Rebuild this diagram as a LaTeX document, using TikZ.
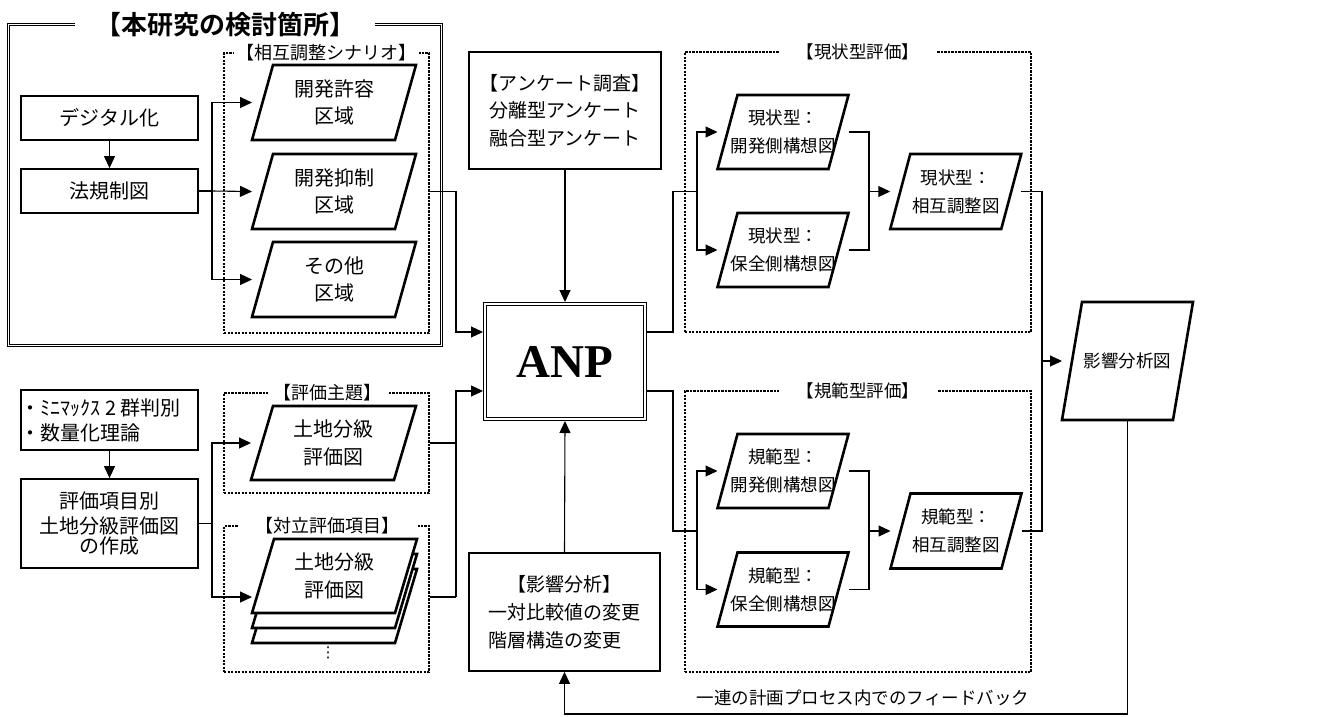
\documentclass[tikz,border=0pt]{standalone}
\usepackage{fontspec}
\setmainfont{Noto Sans CJK JP}[BoldFont={Noto Sans CJK JP Bold}]
\newfontfamily\anpfont{Liberation Serif}
\newfontfamily\djv{DejaVu Sans}
\usetikzlibrary{arrows.meta}
\newcommand\fs[2]{\fontsize{#1}{#2}\selectfont}
\tikzset{
  box/.style={draw, line width=1.8pt, inner sep=0pt, align=center},
  dblbox/.style={draw, double, double distance=1.8pt, line width=1pt, inner sep=0pt, outer sep=2pt},
  pgbox/.style={draw=none, inner sep=0pt, outer sep=0pt},
  pgline/.style={draw, line width=2.6pt, fill=white, line join=miter},
  dotbox/.style={draw, line width=2.4pt, dash pattern=on 2.2pt off 1.3pt, inner sep=0pt},
  ttl/.style={fill=white, inner ysep=2pt},
  conn/.style={line width=1.1pt},
  arr/.style={line width=1.1pt, -{Triangle[length=12pt,width=11pt]}},
}
% parallelogram: name, centre, edge width, height, slant, font, text
\newcommand\pgram[7]{%
  \node[pgbox, minimum width=#3, minimum height=#4] (#1) at #2 {};
  \draw[pgline] ([xshift=#5/2]#1.north west) -- ([xshift=#5/2]#1.north east)
     -- ([xshift=-#5/2]#1.south east) -- ([xshift=-#5/2]#1.south west) -- cycle;
  \node[align=center, font=#6, inner sep=0pt] (#1-t) at (#1.center) {#7};
}
\begin{document}
\begin{tikzpicture}[x=1pt,y=-1pt]
\useasboundingbox (0,0) rectangle (1340,716);

% ---------- group frames ----------
\node[dblbox, minimum width=433, minimum height=321] (study) at (225,185) {};
\node[ttl, inner xsep=20pt, font=\fs{26}{30}\bfseries] (study-t) at (225,24.5) {【本研究の検討箇所】};

\node[dotbox, minimum width=205, minimum height=280] (scen) at (326.5,193) {};
\node[ttl, inner xsep=2.5pt, font=\fs{18}{20}] (scen-t) at (326.5,53) {【相互調整シナリオ】};

\node[dotbox, minimum width=205, minimum height=100] (shu) at (326.5,443) {};
\node[ttl, inner xsep=6pt, font=\fs{18}{20}] (shu-t) at (327.5,393) {【評価主題】};

\node[dotbox, minimum width=205, minimum height=146] (tai) at (326.5,599) {};
\node[ttl, inner xsep=18pt, font=\fs{18}{20}] (tai-t) at (327.5,526) {【対立評価項目】};

\node[dotbox, minimum width=346, minimum height=280] (gen) at (858,192) {};
\node[ttl, inner xsep=18pt, font=\fs{17.5}{20}] (gen-t) at (858,52) {【現状型評価】};

\node[dotbox, minimum width=346, minimum height=281] (kih) at (858,531.5) {};
\node[ttl, inner xsep=18pt, font=\fs{17.5}{20}] (kih-t) at (858,391) {【規範型評価】};

% ---------- left column ----------
\node[box, minimum width=177, minimum height=44, font=\fs{20}{25}] (dig) at (109.5,118) {デジタル化};
\node[box, minimum width=177, minimum height=44, font=\fs{20}{25}] (hou) at (109.5,191) {法規制図};

\node[box, minimum width=177, minimum height=60] (mm) at (109.5,420) {};
\node[anchor=west, align=left, inner sep=0pt, font=\fs{20}{25}] (mm-t) at ([xshift=0.5pt]mm.west) {・ﾐﾆﾏｯｸｽ 2 群判別\\・数量化理論};
\node[box, minimum width=177, minimum height=89, font=\fs{20}{25}] (hyo) at (109.5,523.5) {評価項目別\\土地分級評価図\\[-5pt]の作成};

% ---------- scenario parallelograms ----------
\pgram{p1}{(334,102.5)}{143}{75}{21}{\fs{20}{27}}{開発許容\\区域}
\pgram{p2}{(334,191.5)}{143}{75}{21}{\fs{20}{27}}{開発抑制\\区域}
\pgram{p3}{(334,279.5)}{143}{75}{21}{\fs{20}{27}}{その他\\区域}

\pgram{q1}{(333.5,443)}{143}{74}{22}{\fs{20}{28}}{土地分級\\評価図}
\draw[pgline] (274,569) -- (417,569) -- (395,643) -- (252,643) -- cycle;
\draw[pgline] (274,554) -- (417,554) -- (395,628) -- (252,628) -- cycle;
\pgram{q2}{(334.5,576)}{143}{74}{22}{\fs{20}{28}}{土地分級\\評価図}
\node[font=\djv\fs{15}{18}, inner sep=0pt] (dots) at (328,653) {⋮};

% ---------- centre column ----------
\node[box, minimum width=192, minimum height=117, font=\fs{19}{27.5}] (enq) at (565,110.5) {【アンケート調査】\\分離型アンケート\\融合型アンケート};
\node[dblbox, minimum width=160, minimum height=115, font=\anpfont\bfseries\fs{47}{50}] (anp) at (565,361.5) {ANP};
\node[box, minimum width=191, minimum height=118, font=\fs{19}{28}] (eik) at (564.5,612) {【影響分析】\\\makebox[8em][l]{一対比較値の変更}\\\makebox[8em][l]{階層構造の変更}};

% ---------- right column ----------
\pgram{g1}{(783,132)}{111}{74}{20}{\fs{17.5}{28}}{現状型：\\開発側構想図}
\pgram{g2}{(783,250)}{111}{74}{20}{\fs{17.5}{28}}{現状型：\\保全側構想図}
\pgram{g3}{(955.75,191.5)}{111}{75}{20}{\fs{17.5}{28}}{現状型：\\相互調整図}
\pgram{k1}{(783,471)}{111}{74}{20}{\fs{17.5}{28}}{規範型：\\開発側構想図}
\pgram{k2}{(783,589.5)}{111}{74}{20}{\fs{17.5}{28}}{規範型：\\保全側構想図}
\pgram{k3}{(956,531)}{111}{75}{20}{\fs{17.5}{28}}{規範型：\\相互調整図}
\pgram{ez}{(1127.5,361)}{111}{118}{20}{\fs{17.5}{22}}{影響分析図}

\node[inner sep=0pt, font=\fs{17.5}{20}] (fb-t) at (863,698) {一連の計画プロセス内でのフィードバック};

% ---------- junction coordinates ----------
\coordinate (jL) at (212,0);
\coordinate (jA) at (456,0);
\coordinate (jB) at (673,0);
\coordinate (jC) at (697,0);
\coordinate (jD) at (869,0);
\coordinate (jE) at (1042,0);
\coordinate (fb) at (0,714);
\coordinate (anpL1) at ([yshift=29.5pt]anp.west);
\coordinate (anpL2) at ([yshift=-29.5pt]anp.west);
\coordinate (anpR1) at ([yshift=29.5pt]anp.east);
\coordinate (anpR2) at ([yshift=-29.5pt]anp.east);
\coordinate (q2in) at ([xshift=-11pt,yshift=-21pt]q2.west);

% ---------- connectors ----------
\draw[arr] (dig.south) -- (hou.north);
\draw[conn] (hou.east) -- (jL |- hou.east);
\draw[arr] (jL |- hou.east) |- ([xshift=-10.5pt]p1.west);
\draw[arr] (jL |- hou.east) -- ([xshift=-10.5pt]p2.west);
\draw[arr] (jL |- hou.east) |- ([xshift=-10.5pt]p3.west);

\draw[arr] (mm.south) -- (hyo.north);
\draw[conn] (hyo.east) -- (jL |- hyo.east);
\draw[arr] (jL |- hyo.east) |- ([xshift=-11pt]q1.west);
\draw[arr] (jL |- hyo.east) |- (q2in);

\draw[arr] (scen.east |- p2) -| (jA |- anpL1) -- (anpL1);
\draw[conn] (shu.east |- q1) -- (jA |- q1);
\draw[conn] (tai.east |- q2in) -- (jA |- q2in);
\draw[arr] (jA |- q2in) -- (jA |- anpL2) -- (anpL2);

\draw[arr] (enq.south) -- (anp.north);
\draw[arr] (eik.north) -- (anp.south);

\draw[conn] (anpR1) -| (jB |- g3) -- (jC |- g3);
\draw[arr] (jC |- g3) |- ([xshift=-10pt]g1.west);
\draw[arr] (jC |- g3) |- ([xshift=-10pt]g2.west);
\draw[conn] ([xshift=10pt]g1.east) -| (jD |- g3);
\draw[conn] ([xshift=10pt]g2.east) -| (jD |- g3);
\draw[arr] (jD |- g3) -- ([xshift=-10pt]g3.west);

\draw[conn] (anpR2) -| (jB |- k3) -- (jC |- k3);
\draw[arr] (jC |- k3) |- ([xshift=-10pt]k1.west);
\draw[arr] (jC |- k3) |- ([xshift=-10pt]k2.west);
\draw[conn] ([xshift=10pt]k1.east) -| (jD |- k3);
\draw[conn] ([xshift=10pt]k2.east) -| (jD |- k3);
\draw[arr] (jD |- k3) -- ([xshift=-10pt]k3.west);

\draw[conn] ([xshift=10pt]g3.east) -| (jE |- ez);
\draw[conn] ([xshift=10pt]k3.east) -| (jE |- ez);
\draw[arr] (jE |- ez) -- ([xshift=-10pt]ez.west);

\draw[arr] (ez.south) -- (ez.south |- fb) -| (eik.south);
\end{tikzpicture}
\end{document}
